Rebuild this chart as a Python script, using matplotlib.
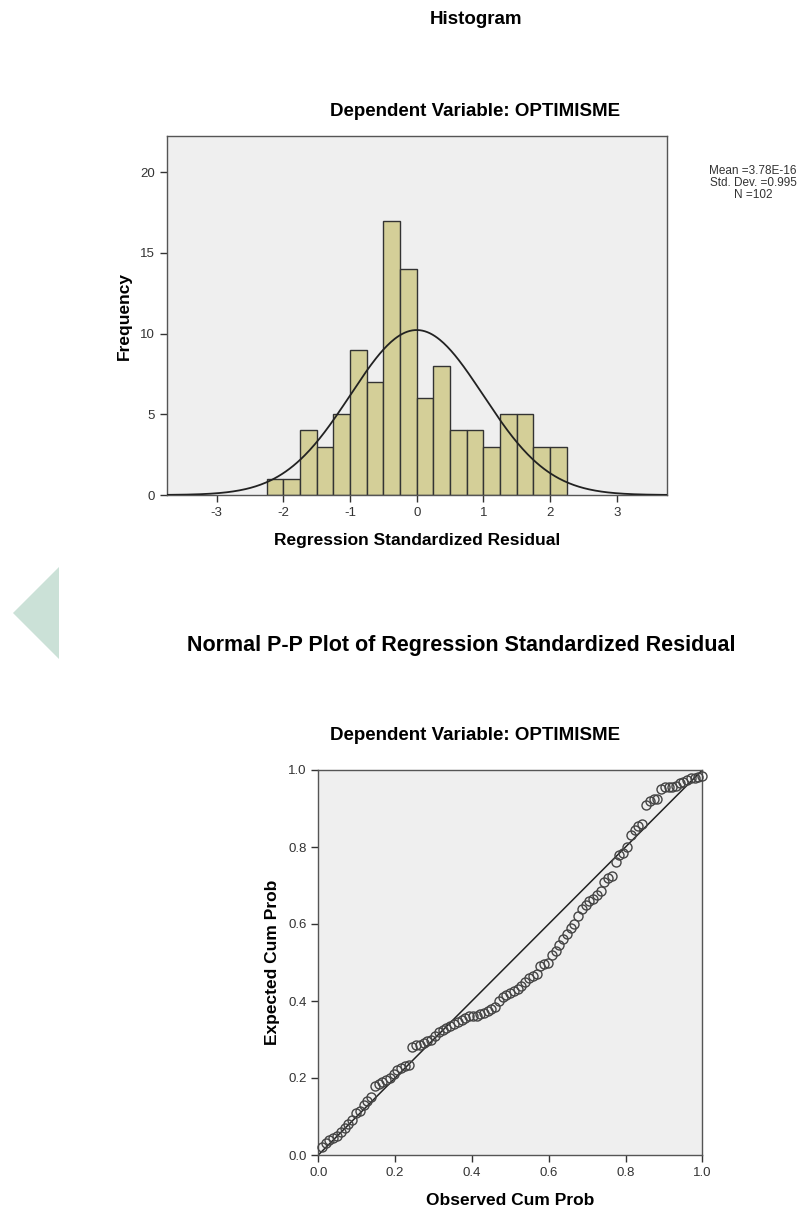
import numpy as np
import matplotlib
matplotlib.use('Agg')
import matplotlib.pyplot as plt
from matplotlib.patches import Polygon

plt.rcParams['font.family'] = ['Liberation Sans', 'DejaVu Sans']
plt.rcParams['axes.unicode_minus'] = False

# histogram of standardized residuals (bin edges every 0.25)
bin_edges = [-2.25, -2.0, -1.75, -1.5, -1.25, -1.0, -0.75, -0.5, -0.25, 0.0,
             0.25, 0.5, 0.75, 1.0, 1.25, 1.5, 1.75, 2.0, 2.25]
bin_counts = [1, 1, 4, 3, 5, 9, 7, 17, 14, 6, 8, 4, 4, 3, 5, 5, 3, 3]
res_mean = 3.78e-16
res_std = 0.995
res_n = 102

# P-P plot points
observed_cum = [0.010, 0.020, 0.029, 0.039, 0.049, 0.059, 0.069, 0.078, 0.088, 0.098,
                0.108, 0.118, 0.127, 0.137, 0.147, 0.157, 0.167, 0.176, 0.186, 0.196,
                0.206, 0.216, 0.225, 0.235, 0.245, 0.255, 0.265, 0.275, 0.284, 0.294,
                0.304, 0.314, 0.324, 0.333, 0.343, 0.353, 0.363, 0.373, 0.382, 0.392,
                0.402, 0.412, 0.422, 0.431, 0.441, 0.451, 0.461, 0.471, 0.480, 0.490,
                0.500, 0.510, 0.520, 0.529, 0.539, 0.549, 0.559, 0.569, 0.578, 0.588,
                0.598, 0.608, 0.618, 0.627, 0.637, 0.647, 0.657, 0.667, 0.676, 0.686,
                0.696, 0.706, 0.716, 0.725, 0.735, 0.745, 0.755, 0.765, 0.775, 0.784,
                0.794, 0.804, 0.814, 0.824, 0.833, 0.843, 0.853, 0.863, 0.873, 0.882,
                0.892, 0.902, 0.912, 0.922, 0.931, 0.941, 0.951, 0.961, 0.971, 0.980,
                0.990, 1.000]
expected_cum = [0.020, 0.030, 0.040, 0.045, 0.050, 0.060, 0.070, 0.080, 0.090, 0.110,
                0.115, 0.130, 0.140, 0.150, 0.180, 0.185, 0.190, 0.195, 0.200, 0.210,
                0.220, 0.225, 0.230, 0.235, 0.280, 0.285, 0.285, 0.290, 0.295, 0.300,
                0.310, 0.320, 0.325, 0.330, 0.335, 0.340, 0.345, 0.350, 0.355, 0.360,
                0.360, 0.360, 0.365, 0.370, 0.375, 0.380, 0.385, 0.400, 0.410, 0.415,
                0.420, 0.425, 0.430, 0.440, 0.450, 0.460, 0.465, 0.470, 0.490, 0.495,
                0.500, 0.520, 0.530, 0.545, 0.560, 0.575, 0.590, 0.600, 0.620, 0.640,
                0.650, 0.660, 0.665, 0.675, 0.685, 0.710, 0.720, 0.725, 0.760, 0.780,
                0.785, 0.800, 0.830, 0.845, 0.855, 0.860, 0.910, 0.920, 0.925, 0.925,
                0.950, 0.955, 0.955, 0.955, 0.958, 0.965, 0.970, 0.975, 0.978, 0.980,
                0.982, 0.985]

panel_bg = '#efefef'
bar_color = '#d4cf98'
frame_color = '#555555'

fig = plt.figure(figsize=(8.05, 12.14), dpi=100)
W, H = 805.0, 1214.0


def axes_px(left, top, right, bottom):
    return fig.add_axes([left / W, 1 - bottom / H, (right - left) / W, (bottom - top) / H])


def style_axes(ax):
    ax.set_facecolor(panel_bg)
    for sp in ax.spines.values():
        sp.set_color(frame_color)
        sp.set_linewidth(1.0)
    ax.tick_params(direction='out', length=5, width=1, color='#333333',
                   labelsize=9.5, labelcolor='#333333', top=False, right=False)


# decorative triangle on the left
fig.patches.append(Polygon([(13 / W, 1 - 613 / H), (59 / W, 1 - 567 / H), (59 / W, 1 - 659 / H)],
                           closed=True, transform=fig.transFigure,
                           facecolor='#cbe1d7', edgecolor='none'))

# ---- histogram ----
fig.text(476 / W, 1 - 19 / H, 'Histogram', ha='center', va='center',
         fontsize=13.5, fontweight='bold')
fig.text(475 / W, 1 - 112 / H, 'Dependent Variable: OPTIMISME', ha='center', va='center',
         fontsize=13.5, fontweight='bold')

ax1 = axes_px(166.7, 136, 666.7, 495)
style_axes(ax1)
widths = np.diff(bin_edges)
ax1.bar(bin_edges[:-1], bin_counts, width=widths, align='edge',
        color=bar_color, edgecolor='#333333', linewidth=1.0, zorder=2)
xs = np.linspace(-3.75, 3.75, 400)
bw = bin_edges[1] - bin_edges[0]
curve = res_n * bw / (res_std * np.sqrt(2 * np.pi)) * np.exp(-0.5 * ((xs - res_mean) / res_std) ** 2)
ax1.plot(xs, curve, color='#222222', linewidth=1.3, zorder=3)
ax1.set_xlim(-3.75, 3.75)
ax1.set_ylim(0, 22.25)
ax1.set_xticks([-3, -2, -1, 0, 1, 2, 3])
ax1.set_yticks([0, 5, 10, 15, 20])
ax1.set_xlabel('Regression Standardized Residual', fontsize=12.5, fontweight='bold', labelpad=10)
ax1.set_ylabel('Frequency', fontsize=12.5, fontweight='bold', labelpad=6)

fig.text(753 / W, 1 - 183 / H, 'Mean =3.78E-16\nStd. Dev. =0.995\nN =102',
         ha='center', va='center', fontsize=8.5, color='#333333', linespacing=0.95)

# ---- P-P plot ----
fig.text(461 / W, 1 - 645 / H, 'Normal P-P Plot of Regression Standardized Residual',
         ha='center', va='center', fontsize=15.5, fontweight='bold')
fig.text(475 / W, 1 - 735 / H, 'Dependent Variable: OPTIMISME', ha='center', va='center',
         fontsize=13.5, fontweight='bold')

ax2 = axes_px(318.3, 770, 702.3, 1155)
style_axes(ax2)
ax2.plot([0, 1], [0, 1], color='#222222', linewidth=1.1, zorder=2)
ax2.plot(observed_cum, expected_cum, linestyle='none', marker='o', markersize=6.5,
         markerfacecolor='none', markeredgecolor='#444444', markeredgewidth=1.0, zorder=3,
         clip_on=False)
ax2.set_xlim(0, 1)
ax2.set_ylim(0, 1)
ticks = [0.0, 0.2, 0.4, 0.6, 0.8, 1.0]
ax2.set_xticks(ticks)
ax2.set_yticks(ticks)
ax2.set_xticklabels([f'{t:.1f}' for t in ticks])
ax2.set_yticklabels([f'{t:.1f}' for t in ticks])
ax2.set_xlabel('Observed Cum Prob', fontsize=12.5, fontweight='bold', labelpad=10)
ax2.set_ylabel('Expected Cum Prob', fontsize=12.5, fontweight='bold', labelpad=6)

fig.savefig('out.png', dpi=100, facecolor='white')
